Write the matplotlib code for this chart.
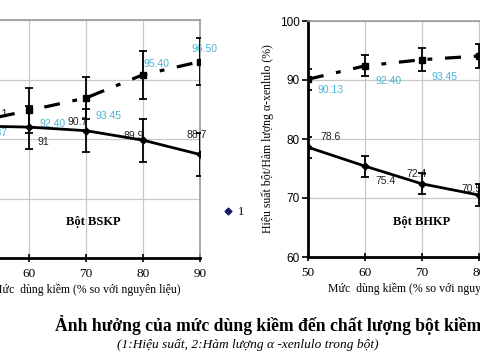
import matplotlib
matplotlib.use('Agg')
import matplotlib.pyplot as plt
from matplotlib.lines import Line2D

# ── Data ─────────────────────────────────────────────────────────────────────
alkali = [50, 60, 70, 80, 90]

# left panel: Bột BSKP
bskp_yield = [91.1, 91.0, 90.7, 89.9, 88.7]
bskp_yield_err = [1.8, 1.8, 1.8, 1.8, 1.8]
bskp_yield_lbl = ['91.1', '91', '90.7', '89.9', '88.7']
bskp_alpha = [91.37, 92.40, 93.45, 95.40, 96.50]
bskp_alpha_err = [2.0, 1.9, 1.8, 2.0, 1.95]
bskp_alpha_lbl = ['91.37', '92.40', '93.45', '95.40', '96.50']

# right panel: Bột BHKP
bhkp_yield = [78.6, 75.4, 72.4, 70.5, 69.0]
bhkp_yield_err = [1.8, 1.8, 1.8, 1.8, 1.8]
bhkp_yield_lbl = ['78.6', '75.4', '72.4', '70.5', '69.0']
bhkp_alpha = [90.13, 92.40, 93.45, 94.07, 94.60]
bhkp_alpha_err = [1.8, 1.8, 2.0, 2.0, 2.0]
bhkp_alpha_lbl = ['90.13', '92.40', '93.45', '94.07', '94.60']

# label offsets in pixels (dx, dy_down, ha)
off_bskp_yield = [(16, -12, 'left'), (9, 15, 'left'), (-8, -9, 'center'), (1, -4, 'right'), (-3, -19, 'center')]
off_bskp_alpha = [(9, 10, 'left'), (10, 14, 'left'), (9, 18, 'left'), (0, -11, 'left'), (-8, -13, 'left')]
off_bhkp_yield = [(12, -10, 'left'), (10, 15, 'left'), (-5, -10, 'center'), (3, -6, 'right'), (3, -6, 'right')]
off_bhkp_alpha = [(10, 11, 'left'), (10, 15, 'left'), (10, 17, 'left'), (10, 15, 'left'), (10, 15, 'left')]

SANS = 'Liberation Sans'
SERIF = 'Liberation Serif'
CYAN = '#4db3d4'
GRID = '#c8c8c8'
DASHDOT = (0, (5, 4, 1.5, 4))

fig = plt.figure(figsize=(4.8, 3.6), dpi=100)
fig.patch.set_facecolor('white')


def label_points(ax, ys, labels, offsets, color):
    for x, y, t, (dx, dy, ha) in zip(alkali, ys, labels, offsets):
        ax.annotate(t, (x, y), xytext=(dx * 0.72, -dy * 0.72),
                    textcoords='offset points', ha=ha, va='center',
                    fontsize=7.5, family=SANS, color=color, annotation_clip=False)


def draw_panel(ax, yld, yld_err, yld_lbl, off_y, alp, alp_err, alp_lbl, off_a):
    ax.errorbar(alkali, yld, yerr=yld_err, color='black', lw=2.0,
                marker='D', ms=3.5, capsize=3, elinewidth=1.3, capthick=1.3,
                zorder=5, clip_on=True)
    ax.errorbar(alkali, alp, yerr=alp_err, color='black', lw=2.3, ls=DASHDOT,
                marker='s', ms=5, capsize=3, elinewidth=1.3, capthick=1.3,
                zorder=5, clip_on=True)
    label_points(ax, yld, yld_lbl, off_y, '#222222')
    label_points(ax, alp, alp_lbl, off_a, CYAN)
    ax.set_xlim(50, 90)
    ax.set_xticks(alkali)
    ax.grid(True, color=GRID, lw=0.9)
    ax.set_axisbelow(True)
    for s in ('top', 'right'):
        ax.spines[s].set_color('#9a9a9a')
        ax.spines[s].set_linewidth(1.2)
    ax.spines['bottom'].set_linewidth(2.0)
    ax.spines['left'].set_linewidth(2.0)
    ax.tick_params(axis='x', direction='inout', length=6, width=1.2,
                   labelsize=9.5, pad=4)
    ax.tick_params(axis='y', direction='out', length=4, width=1.2,
                   labelsize=8.5, pad=2)
    for t in ax.get_xticklabels():
        t.set_family(SERIF)
    for t in ax.get_yticklabels():
        t.set_family(SANS)


# ── Left panel (cropped at left) ─────────────────────────────────────────────
ax1 = fig.add_axes([-28 / 480, 1 - 258 / 360, 228 / 480, 238 / 360])
draw_panel(ax1, bskp_yield, bskp_yield_err, bskp_yield_lbl, off_bskp_yield,
           bskp_alpha, bskp_alpha_err, bskp_alpha_lbl, off_bskp_alpha)
ax1.set_ylim(80, 100)
ax1.set_yticks([80, 85, 90, 95, 100])
ax1.text(0.53, 0.15, 'Bột BSKP', transform=ax1.transAxes, ha='center',
         va='center', family=SERIF, fontweight='bold', fontsize=9)
ax1.set_xlabel('Mức  dùng kiềm (% so với nguyên liệu)', family=SERIF,
               fontsize=8.5, labelpad=3)

leg_handle = Line2D([], [], ls='none', marker='D', ms=3.5, color='#1a1a6e')
fig.legend([leg_handle], ['1'], loc='center left',
           bbox_to_anchor=(212 / 480, 1 - 212 / 360), frameon=False,
           prop={'family': SERIF, 'size': 9}, handlelength=0.8,
           handletextpad=0.4)

# ── Right panel (cropped at right) ───────────────────────────────────────────
ax2 = fig.add_axes([308 / 480, 1 - 257 / 360, 228 / 480, 236 / 360])
draw_panel(ax2, bhkp_yield, bhkp_yield_err, bhkp_yield_lbl, off_bhkp_yield,
           bhkp_alpha, bhkp_alpha_err, bhkp_alpha_lbl, off_bhkp_alpha)
ax2.set_ylim(60, 100)
ax2.set_yticks([60, 70, 80, 90, 100])
for t in ax2.get_yticklabels():
    t.set_family(SANS)
ax2.text(0.5, 0.15, 'Bột BHKP', transform=ax2.transAxes, ha='center',
         va='center', family=SERIF, fontweight='bold', fontsize=9)
ax2.set_xlabel('Mức  dùng kiềm (% so với nguyên liệu)', family=SERIF,
               fontsize=8.5, labelpad=3)
ax2.set_ylabel('Hiệu suất bột/Hàm lượng α-xenlulo (%)', family=SERIF,
               fontsize=8.5, labelpad=4)

# ── Caption ──────────────────────────────────────────────────────────────────
fig.text(55 / 480, 1 - 325 / 360,
         'Ảnh hưởng của mức dùng kiềm đến chất lượng bột kiềm lạnh',
         ha='left', va='center', family=SERIF, fontweight='bold', fontsize=12.7)
fig.text(117 / 480, 1 - 345 / 360,
         '(1:Hiệu suất, 2:Hàm lượng α -xenlulo trong bột)',
         ha='left', va='center', family=SERIF, style='italic', fontsize=9.6)

fig.savefig('out.png', dpi=100)
